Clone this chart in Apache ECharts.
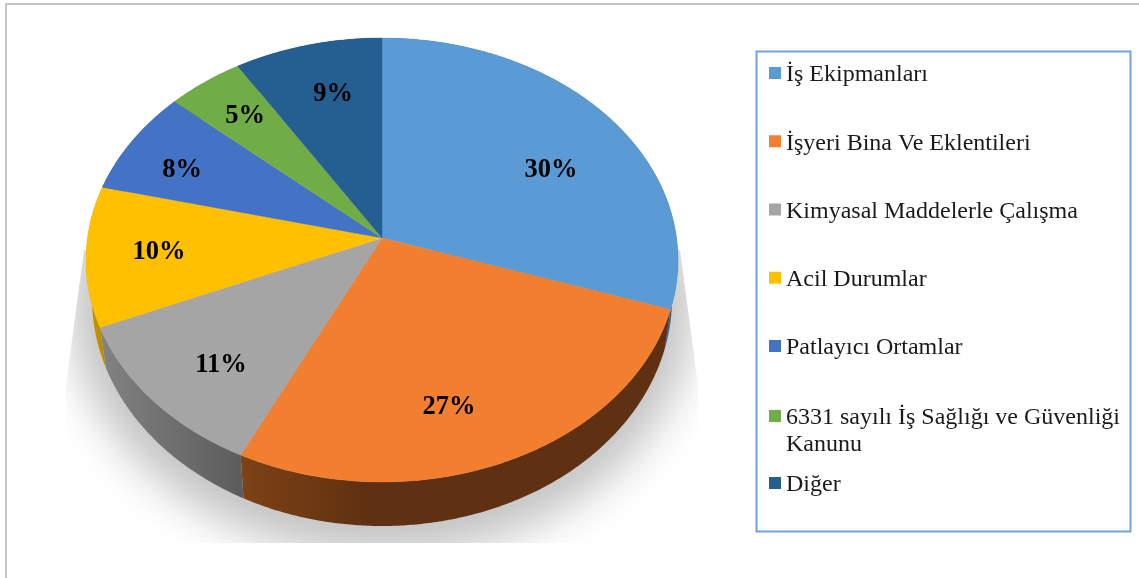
<!DOCTYPE html>
<html><head><meta charset="utf-8">
<style>html,body{margin:0;padding:0;background:#fff}#c{width:1139px;height:578px}</style>
<script src="https://cdn.jsdelivr.net/npm/echarts@6/dist/echarts.min.js"></script>
</head><body><div id="c"></div>
<script>
const categories = ['İş Ekipmanları','İşyeri Bina Ve Eklentileri','Kimyasal Maddelerle Çalışma','Acil Durumlar','Patlayıcı Ortamlar','6331 sayılı İş Sağlığı ve Güvenliği\nKanunu','Diğer'];
const values = [30.1, 27.1, 11.4, 10.2, 7.7, 4.6, 8.9];
const colors = ['#5B9BD5','#F27F30','#A5A5A5','#FFC000','#4472C4','#70AD47','#255E91'];

// side wall shading per slice: [[stop, colour], ...] left to right
const wallStops = [
  [[0,'#2E5F8F'],[1,'#2E5F8F']],
  [[0,'#7E4216'],[0.3,'#5F3011'],[1,'#5F3011']],
  [[0,'#828282'],[1,'#5C5C5C']],
  [[0,'#C69600'],[1,'#B88B00']],
  [[0,'#2F4F88'],[1,'#2F4F88']],
  [[0,'#4E7A32'],[1,'#4E7A32']],
  [[0,'#1A4266'],[1,'#1A4266']]
];
// label centres relative to the pie apex
const labelOffsets = [[169,-68],[67,169],[-161,127],[-223,14],[-200,-68],[-137,-122],[-49,-144]];

// perspective projection of the disc: k = foreshortening
const K = 0.099;
const top_ = {cx:382, ay:238, A:294.5, B:219.8};
const low_ = {cx:382, ay:275.4, A:288.6, B:225.8};
const total = values.reduce((a,b)=>a+b,0);
const cum = values.reduce((acc,v)=>{acc.push(acc[acc.length-1]+v);return acc;},[0]);
const ang = p => p/total*2*Math.PI;
function proj(g,t){const u=Math.sin(t),v=-Math.cos(t),w=1-K*v;return [g.cx+g.A*u/w,g.ay+g.B*v/w];}
function arc(g,i){const a=ang(cum[i]),b=ang(cum[i+1]),n=Math.max(4,Math.ceil((b-a)/0.008)),p=[];
  for(let j=0;j<=n;j++)p.push(proj(g,a+(b-a)*j/n));return p;}

const OFF = 3000; // the ellipse sits off-canvas so only its soft shadow shows
const shadowSeries = {
  type:'custom', name:'shadow', coordinateSystem:'none', z:0, silent:true, animation:false, data:[0],
  renderItem(){return {type:'ellipse', shape:{cx:382-OFF,cy:302,rx:312,ry:254},
    style:{fill:'#C4C4C4',shadowBlur:44,shadowColor:'#C4C4C4',shadowOffsetX:OFF},
    clipPath:{type:'polygon',shape:{points:[[84,250],[66,385],[66,543],[698,543],[698,385],[680,250]]}}};}
};
const wallSeries = {
  type:'custom', name:'walls', coordinateSystem:'none', z:1, silent:true, animation:false, data:values,
  renderItem(p){const i=p.dataIndex,pts=arc(top_,i).concat(arc(low_,i).reverse());
    const stops=wallStops[i].map(s=>({offset:s[0],color:s[1]}));
    return {type:'polygon',shape:{points:pts},style:{fill:new echarts.graphic.LinearGradient(0,0,1,0,stops)}};}
};
const sliceSeries = categories.map((name,i)=>({
  type:'custom', name, coordinateSystem:'none', z:2, silent:true, animation:false,
  itemStyle:{color:colors[i]}, data:[values[i]],
  renderItem(p,api){const pts=[[top_.cx,top_.ay]].concat(arc(top_,i));
    const lo=labelOffsets[i];
    return {type:'group',children:[
      {type:'polygon',shape:{points:pts},style:{fill:colors[i],stroke:colors[i],lineWidth:0.4}},
      {type:'text',x:top_.cx+lo[0],y:top_.ay+lo[1],z2:10,style:{text:Math.round(api.value(0)/total*100)+'%',
        fill:'#000',font:'bold 26.5px "Liberation Serif"',align:'center',verticalAlign:'middle'}}
    ]};}
}));

const legendText = {fontFamily:'Liberation Serif',fontSize:24,color:'#1A1A1A',lineHeight:28};
// icon box is 16 tall with the 12px square at its top, so the square rides 2px above the text centre
const legendBase = {orient:'vertical',left:769,padding:0,itemWidth:12,itemHeight:16,itemGap:40.25,
  icon:'path://M0 0H12V12H0ZM0 16L0 16Z',selectedMode:false,textStyle:legendText};
const first = s=>s.split('\n')[0];
const option = {
  backgroundColor:'#fff', animation:false,
  legend:[
    Object.assign({},legendBase,{top:61,data:categories.slice(0,5)}),
    Object.assign({},legendBase,{top:404,data:[categories[5]],formatter:first}),
    Object.assign({},legendBase,{top:471,data:[categories[6]]})
  ],
  graphic:[
    {type:'polyline',shape:{points:[[6,578],[6,4],[1139,4]]},style:{stroke:'#C6C6C6',lineWidth:2,fill:null},silent:true},
    {type:'rect',shape:{x:756.5,y:51.5,width:374,height:480},style:{stroke:'#6FA5DC',lineWidth:2,fill:null},silent:true},
    {type:'text',x:786,y:445,style:{text:categories[5].split('\n')[1],fill:'#1A1A1A',font:'24px "Liberation Serif"',verticalAlign:'middle'},silent:true}
  ],
  series:[shadowSeries,wallSeries].concat(sliceSeries)
};
echarts.init(document.getElementById('c'),null,{renderer:'canvas'}).setOption(option);
</script></body></html>
